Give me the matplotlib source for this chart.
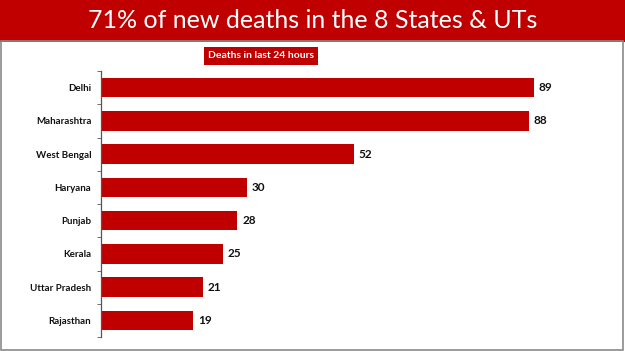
import numpy as np
import matplotlib
matplotlib.use("Agg")
import matplotlib.pyplot as plt
from matplotlib.patches import Rectangle

states = ["Delhi", "Maharashtra", "West Bengal", "Haryana", "Punjab",
          "Kerala", "Uttar Pradesh", "Rajasthan"]
deaths = [89, 88, 52, 30, 28, 25, 21, 19]

RED = "#C00000"
W, H = 625, 351

fig = plt.figure(figsize=(W / 100, H / 100), dpi=100)
fig.patch.set_facecolor("white")

# title banner
fig.patches.append(Rectangle((0, 1 - 42 / H), 1, 42 / H, transform=fig.transFigure,
                             facecolor=RED, edgecolor="none", zorder=0))
fig.text(0.5, 1 - 21 / H, "71% of new deaths in the 8 States & UTs", color="white",
         fontsize=18, family="Lato", ha="center", va="center")
# frame
fig.patches.append(Rectangle((0.002, 0.003), 0.995, 1 - 42 / H, transform=fig.transFigure,
                             facecolor="none", edgecolor="#8a8a8a", lw=1.2, zorder=0))
fig.text(261 / W, 1 - 56 / H, "Deaths in last 24 hours", color="white", fontsize=7.5,
         fontweight="bold", family="Lato", ha="center", va="center",
         bbox=dict(boxstyle="square,pad=0.4", facecolor=RED, edgecolor="none"))

ax = fig.add_axes([101 / W, 1 - 337 / H, (590 - 101) / W, (337 - 71) / H])
y = np.arange(len(states))
ax.barh(y, deaths, height=0.58, color=RED)
ax.set_ylim(len(states) - 0.5, -0.5)
ax.set_xlim(0, (590 - 101) / 4.865)
for yi, v in zip(y, deaths):
    ax.text(v + 1.0, yi, str(v), va="center", ha="left", fontsize=8.5,
            fontweight="bold", family="Lato", color="#111111")

ax.set_yticks(y)
ax.set_yticklabels(states, fontsize=7, fontweight="bold", family="Lato", color="#111111")
ax.set_yticks(np.arange(-0.5, len(states)), minor=True)
ax.tick_params(axis="y", which="major", length=0, pad=7)
ax.tick_params(axis="y", which="minor", length=3, color="#555555")
ax.set_xticks([])
for s in ["top", "right", "bottom"]:
    ax.spines[s].set_visible(False)
ax.spines["left"].set_color("#555555")
ax.spines["left"].set_linewidth(0.9)

fig.savefig("out.png", dpi=100)
